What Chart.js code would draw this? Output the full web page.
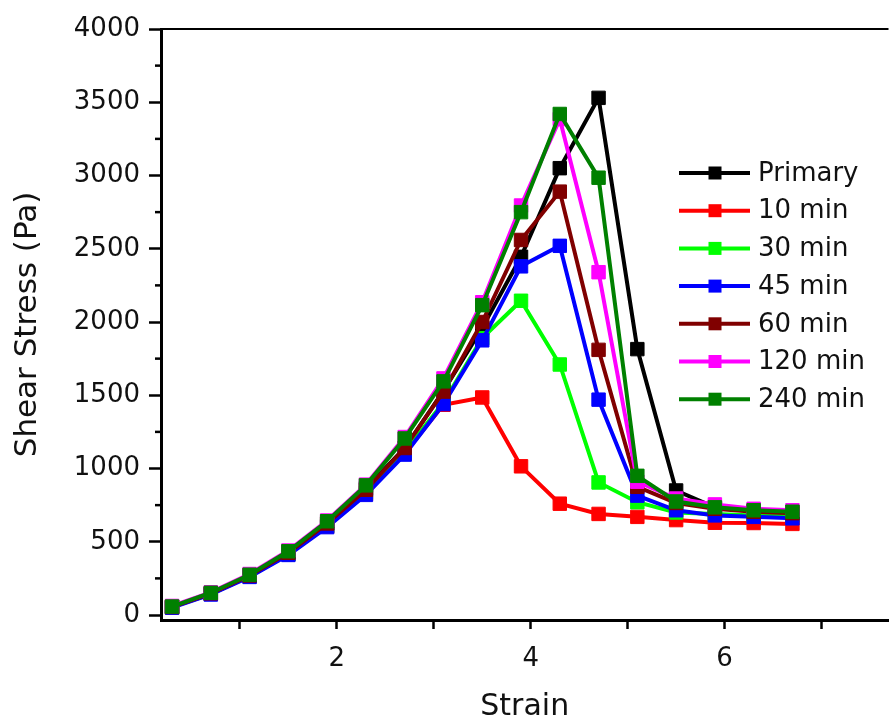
<!DOCTYPE html>
<html>
<head>
<meta charset="utf-8">
<script src="https://cdn.jsdelivr.net/npm/chart.js@4/dist/chart.umd.min.js"></script>
<style>
  html, body { margin: 0; padding: 0; background: #ffffff; overflow: hidden; width: 889px; height: 719px; }
  #wrap { position: relative; width: 899px; height: 719px; }
</style>
</head>
<body>
<div id="wrap"><canvas id="c"></canvas></div>
<script>
// ---- data ----
const strain = [0.3, 0.7, 1.1, 1.5, 1.9, 2.3, 2.7, 3.1, 3.5, 3.9, 4.3, 4.7, 5.1, 5.5, 5.9, 6.3, 6.7];
const primary = [55, 145, 270, 425, 625, 865, 1140, 1530, 1960, 2445, 3050, 3530, 1815, 850, 735, 715, 700];
const min10   = [55, 145, 265, 415, 605, 825, 1105, 1435, 1485, 1015, 760, 690, 670, 648, 630, 628, 622];
const min30   = [55, 145, 265, 415, 610, 835, 1115, 1450, 1890, 2145, 1710, 905, 770, 700, 690, 680, 685];
const min45   = [50, 140, 260, 410, 600, 820, 1095, 1440, 1875, 2380, 2520, 1470, 815, 715, 680, 670, 660];
const min60   = [55, 148, 270, 425, 625, 855, 1140, 1525, 2000, 2560, 2890, 1810, 875, 765, 725, 705, 695];
const min120  = [62, 155, 280, 440, 645, 890, 1215, 1615, 2135, 2795, 3385, 2340, 910, 795, 755, 725, 715];
const min240  = [58, 152, 275, 435, 640, 885, 1205, 1595, 2115, 2750, 3420, 2985, 950, 775, 735, 715, 705];

const seriesLabels = ['Primary', '10 min', '30 min', '45 min', '60 min', '120 min', '240 min'];
const seriesColors = ['#000000', '#ff0000', '#00ff00', '#0000ff', '#800000', '#ff00ff', '#008000'];
const seriesValues = [primary, min10, min30, min45, min60, min120, min240];

const xMajorTicks = [1, 2, 3, 4, 5, 6, 7];
const xLabelled = [2, 4, 6];
const yMajorTicks = [0, 500, 1000, 1500, 2000, 2500, 3000, 3500, 4000];
const yMinorTicks = [250, 750, 1250, 1750, 2250, 2750, 3250, 3750];

const FONT = '"DejaVu Sans", "Liberation Sans", Arial, sans-serif';

const datasets = seriesValues.map((vals, i) => ({
  label: seriesLabels[i],
  data: strain.map((x, k) => ({ x: x, y: vals[k] })),
  borderColor: seriesColors[i],
  backgroundColor: seriesColors[i],
  pointBackgroundColor: seriesColors[i],
  pointBorderColor: seriesColors[i],
  borderWidth: 4,
  pointStyle: 'rect',
  pointRadius: 9.5,
  pointBorderWidth: 1,
  tension: 0,
  order: seriesValues.length - 1 - i
}));

const framePlugin = {
  id: 'frame',
  afterDatasetsDraw(chart) {
    const ctx = chart.ctx;
    const a = chart.chartArea;
    const ys = chart.scales.y;
    ctx.save();
    // top frame line
    ctx.strokeStyle = '#000';
    ctx.lineWidth = 2;
    ctx.beginPath();
    ctx.moveTo(a.left, a.top);
    ctx.lineTo(a.right, a.top);
    ctx.stroke();
    // y minor ticks
    ctx.lineWidth = 2.5;
    yMinorTicks.forEach(v => {
      const py = ys.getPixelForValue(v);
      ctx.beginPath();
      ctx.moveTo(a.left - 6, py);
      ctx.lineTo(a.left, py);
      ctx.stroke();
    });
    // legend
    const lx0 = 679, lx1 = 750, mx = 715, tx = 758, ty0 = 173, dy = 37.7;
    ctx.font = '26px ' + FONT;
    ctx.textBaseline = 'middle';
    ctx.textAlign = 'left';
    chart.data.datasets.forEach((ds, i) => {
      const y = ty0 + i * dy;
      ctx.strokeStyle = ds.borderColor;
      ctx.lineWidth = 4;
      ctx.beginPath();
      ctx.moveTo(lx0, y);
      ctx.lineTo(lx1, y);
      ctx.stroke();
      ctx.fillStyle = ds.backgroundColor;
      ctx.fillRect(mx - 6.5, y - 6.5, 13, 13);
      ctx.fillStyle = '#111';
      ctx.fillText(ds.label, tx, y + 1);
    });
    ctx.restore();
  }
};

new Chart(document.getElementById('c'), {
  type: 'line',
  data: { datasets: datasets },
  plugins: [framePlugin],
  options: {
    responsive: true,
    maintainAspectRatio: false,
    animation: false,
    devicePixelRatio: 1,
    layout: { padding: { top: 29, right: 0, bottom: 0, left: 0 } },
    plugins: { legend: { display: false }, tooltip: { enabled: false } },
    elements: { line: { clip: false } },
    scales: {
      x: {
        type: 'linear',
        min: 0.186,
        max: 7.691,
        afterBuildTicks: s => { s.ticks = xMajorTicks.map(v => ({ value: v })); },
        afterFit: s => { s.height = 99; },
        grid: { display: true, drawOnChartArea: false, drawTicks: true, tickLength: 9, tickWidth: 2.5, tickColor: '#000' },
        border: { display: true, color: '#000', width: 3 },
        ticks: {
          autoSkip: false,
          maxRotation: 0,
          padding: 15,
          color: '#111',
          font: { family: FONT, size: 26 },
          callback: v => (xLabelled.includes(v) ? String(v) : '')
        },
        title: {
          display: true,
          text: 'Strain',
          color: '#111',
          font: { family: FONT, size: 30 },
          padding: { top: 0, bottom: -6 }
        }
      },
      y: {
        type: 'linear',
        min: -34,
        max: 4000,
        afterBuildTicks: s => { s.ticks = yMajorTicks.map(v => ({ value: v })); },
        afterFit: s => { s.width = 161; },
        grid: { display: true, drawOnChartArea: false, drawTicks: true, tickLength: 12, tickWidth: 2.5, tickColor: '#000' },
        border: { display: true, color: '#000', width: 3 },
        ticks: {
          autoSkip: false,
          padding: 9,
          color: '#111',
          font: { family: FONT, size: 26 },
          callback: v => String(v)
        },
        title: {
          display: true,
          text: 'Shear Stress (Pa)',
          color: '#111',
          font: { family: FONT, size: 31 },
          padding: { top: 9, bottom: 0 }
        }
      }
    }
  }
});
</script>
</body>
</html>
